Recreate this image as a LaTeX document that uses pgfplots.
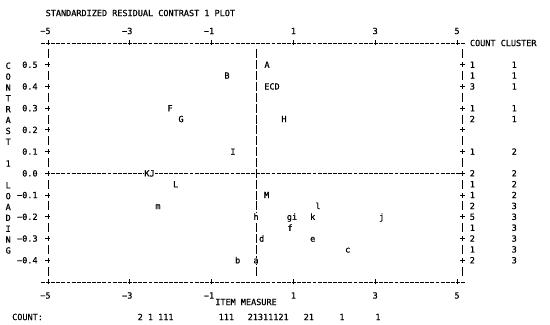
\documentclass[border=0pt]{standalone}
\usepackage{fontspec}
\setmainfont{DejaVu Sans Mono}[FakeBold=0.6]
\usepackage{pgfplots}
\usepackage{pgfplotstable}
\pgfplotsset{compat=1.18}

% items: measure, contrast 1 loading, label
\pgfplotstableread{
x y lab
0.355 0.50 A
-0.623 0.45 B
0.477 0.40 ECD
-2.017 0.30 F
-1.748 0.25 G
0.770 0.25 H
-0.477 0.10 I
-2.518 0.00 KJ
-1.878 -0.05 L
0.347 -0.10 M
-2.311 -0.15 m
1.601 -0.15 l
0.086 -0.20 h
0.966 -0.20 gi
1.472 -0.20 k
3.159 -0.20 j
0.917 -0.25 f
0.225 -0.30 d
1.472 -0.30 e
2.328 -0.35 c
-0.362 -0.40 b
0.086 -0.40 a
}\items

% right-hand columns: count and cluster per row
\pgfplotstableread{
xc xk y n cl
5.376 6.40 0.50 1 1
5.376 6.40 0.45 1 1
5.376 6.40 0.40 3 1
5.376 6.40 0.30 1 1
5.376 6.40 0.25 2 1
5.376 6.40 0.10 1 2
5.376 6.40 0.00 2 2
5.376 6.40 -0.05 1 2
5.376 6.40 -0.10 1 2
5.376 6.40 -0.15 2 3
5.376 6.40 -0.20 5 3
5.376 6.40 -0.25 1 3
5.376 6.40 -0.30 2 3
5.376 6.40 -0.35 1 3
5.376 6.40 -0.40 2 3
}\counts

\tikzset{
  txt/.style={anchor=base, yshift=-3.1bp, inner sep=0.3bp},
  hdash/.style={black, line width=0.85bp, dash pattern=on 3.8bp off 1.325bp, dash phase=4.46bp},
  vframe/.style={black, line width=0.85bp, dash pattern=on 9bp off 3.865bp on 5bp off 3.865bp, dash phase=20.8bp},
  vmid/.style={black, line width=0.85bp, dash pattern=on 9bp off 1.865bp, dash phase=9.93bp},
}

\begin{document}
\fontsize{8.5bp}{10.865bp}\selectfont
\begin{tikzpicture}
\begin{axis}[name=ax, scale only axis, width=414.1bp, height=239bp,
  xmin=-5, xmax=5.125, ymin=-0.5, ymax=0.6, clip=false,
  axis line style={draw=none},
  xtick={-5,-3,-1,1,3,5},
  xticklabels={−5\phantom{−},−3\phantom{−},−1\phantom{−},1,3,5},
  ytick={-0.4,-0.3,-0.2,-0.1,0,0.1,0.2,0.3,0.4,0.5},
  yticklabels={−0.4,−0.3,−0.2,−0.1,0.0,0.1,0.2,0.3,0.4,0.5},
  tick align=center, major tick length=5bp,
  tick style={black, line width=0.85bp},
  xticklabel style={anchor=center, inner sep=0pt, yshift=-11bp},
  yticklabel style={anchor=east, inner sep=0pt, xshift=-7.7bp},
]
% frame and reference lines, drawn like the text plot
\addplot[hdash] coordinates {(-5.188,0.6) (5.188,0.6)};
\addplot[hdash] coordinates {(-5.188,-0.5) (5.188,-0.5)};
\addplot[hdash] coordinates {(-5.063,0) (5.188,0)};
\addplot[vframe] coordinates {(-5,0.575) (-5,-0.475)};
\addplot[vframe] coordinates {(5.125,0.575) (5.125,-0.475)};
\addplot[vmid] coordinates {(0.086,0.575) (0.086,-0.475)};

% item letters
\addplot[draw=none, nodes near coords, point meta=explicit symbolic,
  nodes near coords style={txt, fill=white, inner sep=0.8bp}]
  table[x=x, y=y, meta=lab] {\items};

% count and cluster columns
\addplot[draw=none, nodes near coords, point meta=explicit symbolic,
  nodes near coords style={txt}]
  table[x=xc, y=y, meta=n] {\counts};
\addplot[draw=none, nodes near coords, point meta=explicit symbolic,
  nodes near coords style={txt}]
  table[x=xk, y=y, meta=cl] {\counts};

\node[anchor=west, inner sep=0pt] at (axis cs:-5.061,0.738) {STANDARDIZED RESIDUAL CONTRAST 1 PLOT};
\node[anchor=west, inner sep=0pt] at (axis cs:5.313,0.6) {COUNT CLUSTER};
\node[anchor=north, align=center, inner sep=0pt] at (axis cs:-5.973,0.511)
  {C\\O\\N\\T\\R\\A\\S\\T\\~\\1\\~\\L\\O\\A\\D\\I\\N\\G};
\node[inner sep=0pt] at (axis cs:-0.159,-0.592) {ITEM MEASURE};
\node[anchor=west, inner sep=0pt] at (axis cs:-5.880,-0.661) {COUNT:};
\node[anchor=west, inner sep=0pt] at (axis cs:-2.812,-0.661) {2 1 111};
\node[anchor=west, inner sep=0pt] at (axis cs:-0.831,-0.661) {111};
\node[anchor=west, inner sep=0pt] at (axis cs:-0.122,-0.661) {21311121};
\node[anchor=west, inner sep=0pt] at (axis cs:1.247,-0.661) {21};
\node[inner sep=0pt] at (axis cs:2.188,-0.661) {1};
\node[inner sep=0pt] at (axis cs:3.068,-0.661) {1};
\end{axis}
% second axis: tick labels along the top
\begin{axis}[scale only axis, width=414.1bp, height=239bp,
  xmin=-5, xmax=5.125, ymin=-0.5, ymax=0.6,
  axis line style={draw=none}, ytick=\empty,
  xtick={-5,-3,-1,1,3,5},
  xticklabels={−5\phantom{−},−3\phantom{−},−1\phantom{−},1,3,5},
  xticklabel pos=upper, major tick length=0pt, tick style={draw=none},
  xticklabel style={anchor=center, inner sep=0pt, yshift=12bp},
]
\end{axis}
\pgfresetboundingbox
\path[use as bounding box] ([shift={(-48bp,-43bp)}]ax.south west) rectangle ([shift={(87.9bp,43bp)}]ax.north east);
\end{tikzpicture}
\end{document}
